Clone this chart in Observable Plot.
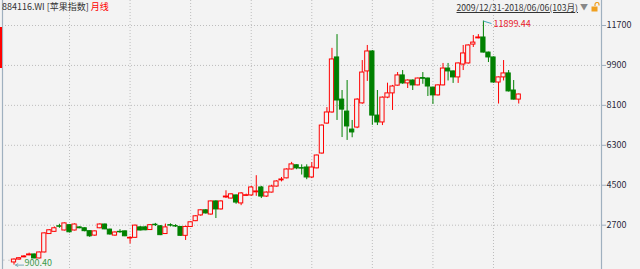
<!DOCTYPE html>
<html><head><meta charset="utf-8">
<script src="https://cdn.jsdelivr.net/npm/d3@7"></script>
<script src="https://cdn.jsdelivr.net/npm/@observablehq/plot@0.6"></script>
<style>
html,body{margin:0;padding:0;background:#f3f3f3;}
#wrap{position:relative;width:640px;height:269px;overflow:hidden;font-family:"Noto Sans CJK SC","Liberation Sans",sans-serif;}
#chart{position:absolute;left:0;top:0;}
#title{position:absolute;left:2px;top:0px;font-size:9px;color:#333;line-height:14px;white-space:nowrap;}
#title .red{color:#ff0000;}
#range{position:absolute;right:62px;top:0px;font-size:8.6px;color:#333;text-decoration:underline;line-height:14px;white-space:nowrap;}
#tri{position:absolute;left:580px;top:0px;font-size:8px;color:#888;line-height:14px;}
#lock{position:absolute;left:591px;top:2px;}
#redbar{position:absolute;left:0;top:27px;width:2px;height:41px;background:#ff0000;}
</style></head>
<body>
<div id="wrap">
  <div id="chart"></div>
  <div id="title">884116.WI [苹果指数] <span class="red">月线</span></div>
  <div id="range">2009/12/31-2018/06/06(103月)</div>
  <div id="tri">▼</div>
  <svg id="lock" width="9" height="10" viewBox="0 0 9 10"><path d="M4 4 V2.5 A2 2 0 0 1 8 2.5 V3.5" fill="none" stroke="#f0a020" stroke-width="1.2"/><rect x="0.5" y="4.5" width="6" height="5" fill="#f0a020"/></svg>
  <div id="redbar"></div>
</div>
<script>
// Monthly OHLC, 2009/12 .. 2018/06 (103 months)
const open = [1100,1100,1020,1150,1250,1340,1380,1200,1470,2300,2400,2650,2460,2700,2460,2600,2560,2430,2230,2560,2730,2500,2230,2400,2420,2100,2130,2600,2600,2480,2720,2650,2300,2700,2660,2620,2220,2620,2880,3140,3370,3180,3770,3410,3950,3900,4040,3680,4020,4040,4180,4400,3990,4170,4440,4720,4810,5210,5400,5270,5300,4850,5260,5930,7280,7780,10260,8360,7820,7010,7100,8190,9630,10530,7640,7330,8450,8640,8990,9450,9090,9220,9000,9330,9310,8900,8550,9000,9760,9630,9360,9940,9990,10840,11120,11160,10480,10260,9130,9360,9540,8770,8360];
const high = [1120,1115,1180,1240,1330,1440,1400,1490,2350,2500,2620,2740,2800,2720,2760,2620,2580,2440,2440,2760,2750,2520,2400,2500,2440,2180,2700,2640,2650,2720,2780,2680,2750,2760,2720,2640,2660,2850,3130,3400,3400,3790,3800,3800,4250,4120,4060,4170,4100,4450,4930,4450,4200,4500,4700,4850,5240,5530,5420,5420,5420,5520,5860,7220,8000,10670,11290,8770,9220,7420,8400,10120,10800,10570,8770,8480,9100,9000,9580,9670,9250,9250,9330,9580,9330,8920,9030,9990,9990,9650,10010,10800,10830,11250,11290,11899.44,10500,10280,9380,10120,9670,9220,8610];
const low = [1090,1085,900.40,1120,1230,1320,1190,1180,1450,2280,2380,2560,2440,2350,2440,2540,2400,2150,2200,2540,2500,2250,2200,2330,2180,1850,2100,2440,2450,2460,2640,2230,2280,2620,2600,2200,2010,2600,2860,3100,3200,3150,3000,3380,3900,3880,3640,3580,3990,4000,4000,3900,3950,4150,4420,4650,4790,5190,5200,4960,4750,4800,5240,5900,7250,7750,7420,6650,6520,6640,7050,8150,9180,7200,7190,7190,8400,7870,8970,9050,8860,8770,8980,9050,8500,8140,8520,8980,9200,9090,9090,9670,9960,10710,11100,10460,10030,9100,8160,9200,8700,8340,8160];
const close = [1100,1100,1150,1210,1290,1380,1200,1470,2330,2470,2560,2630,2780,2380,2730,2560,2430,2200,2420,2730,2510,2280,2370,2380,2200,2130,2680,2460,2470,2700,2700,2250,2600,2680,2640,2220,2620,2830,3100,3370,3230,3770,3410,3770,3990,4090,3720,4130,4050,4400,4220,3990,4170,4440,4670,4760,5210,5440,5260,5250,4850,5300,5840,7190,7780,10170,8320,7910,7150,6880,8360,9580,10530,7640,7330,8450,8640,8950,9450,9090,9220,9000,9310,9300,8950,8550,9000,9760,9630,9360,9990,10440,10800,10930,11160,10480,10260,9130,9360,9540,8730,8360,8590];
// Right-axis tick values
const yTicks = [2700, 4500, 6300, 8100, 9900, 11700];
// Month index of each January (year boundaries 2011..2018)
const yearStartIndex = [13, 25, 37, 49, 61, 73, 85, 97];

const data = open.map((o, i) => ({i, o, h: high[i], l: low[i], c: close[i]}));
const UP = "#ff0000", DOWN = "#008000", FLAT = "#8c8c8c", BG = "#f3f3f3";
const col = d => d.c > d.o ? UP : d.c < d.o ? DOWN : FLAT;
const xDomain = [-0.28, 118.4];
const yDomain = [702, 12827];

let maxI = 0, minI = 0;
data.forEach((d, i) => { if (d.h > data[maxI].h) maxI = i; if (d.l < data[minI].l) minI = i; });
const maxD = data[maxI], minD = data[minI];

const chart = Plot.plot({
  width: 640, height: 269,
  marginTop: 0, marginBottom: 0, marginLeft: 2, marginRight: 39,
  style: {background: "transparent", fontFamily: "'Noto Sans CJK SC','Liberation Sans',sans-serif", fontSize: "9px", color: "#2a2a3a", overflow: "visible"},
  x: {domain: xDomain, axis: null},
  y: {domain: yDomain, axis: null},
  marks: [
    Plot.gridY(yTicks, {stroke: "#bdbdbd", strokeOpacity: 1, strokeDasharray: "1,2"}),
    Plot.gridX(yearStartIndex, {stroke: "#bdbdbd", strokeOpacity: 1, strokeDasharray: "1,2"}),
    Plot.ruleX(data, {x: "i", y1: "l", y2: "h", stroke: col, strokeWidth: 1}),
    Plot.rect(data, {x1: d => d.i - 0.42, x2: d => d.i + 0.42, y1: "o", y2: "c",
      fill: d => d.c > d.o ? BG : col(d), stroke: col, strokeWidth: 1}),
    Plot.ruleX([xDomain[1]], {stroke: "#9fb0bf", strokeWidth: 1.2}),
    Plot.ruleX([xDomain[0]], {stroke: "#9fb0bf", strokeWidth: 1.2}),
    Plot.axisY(yTicks, {anchor: "right", tickSize: 4, tickPadding: 1, stroke: "#9fb0bf", fill: "#2a2a3a", fontSize: 9, tickFormat: d => String(d)}),
    // max annotation
    Plot.link([maxD], {x1: "i", y1: "h", x2: d => d.i + 1.6, y2: d => d.h - 110, stroke: "#40a8b8"}),
    Plot.text([maxD], {x: "i", y: "h", text: d => d.h.toFixed(2), dx: 10, dy: 3, textAnchor: "start", fill: "#e8202a", fontSize: 9}),
    // min annotation
    Plot.arrow([minD], {x1: d => d.i + 1.9, x2: d => d.i + 0.3, y1: "l", y2: "l", stroke: "#78aab8", headLength: 4, strokeWidth: 1}),
    Plot.text([minD], {x: "i", y: "l", text: d => d.l.toFixed(2), dx: 10.5, dy: -1.5, textAnchor: "start", fill: "#3a9a4a", fontSize: 9})
  ]
});
document.getElementById("chart").appendChild(chart);
</script>
</body></html>
